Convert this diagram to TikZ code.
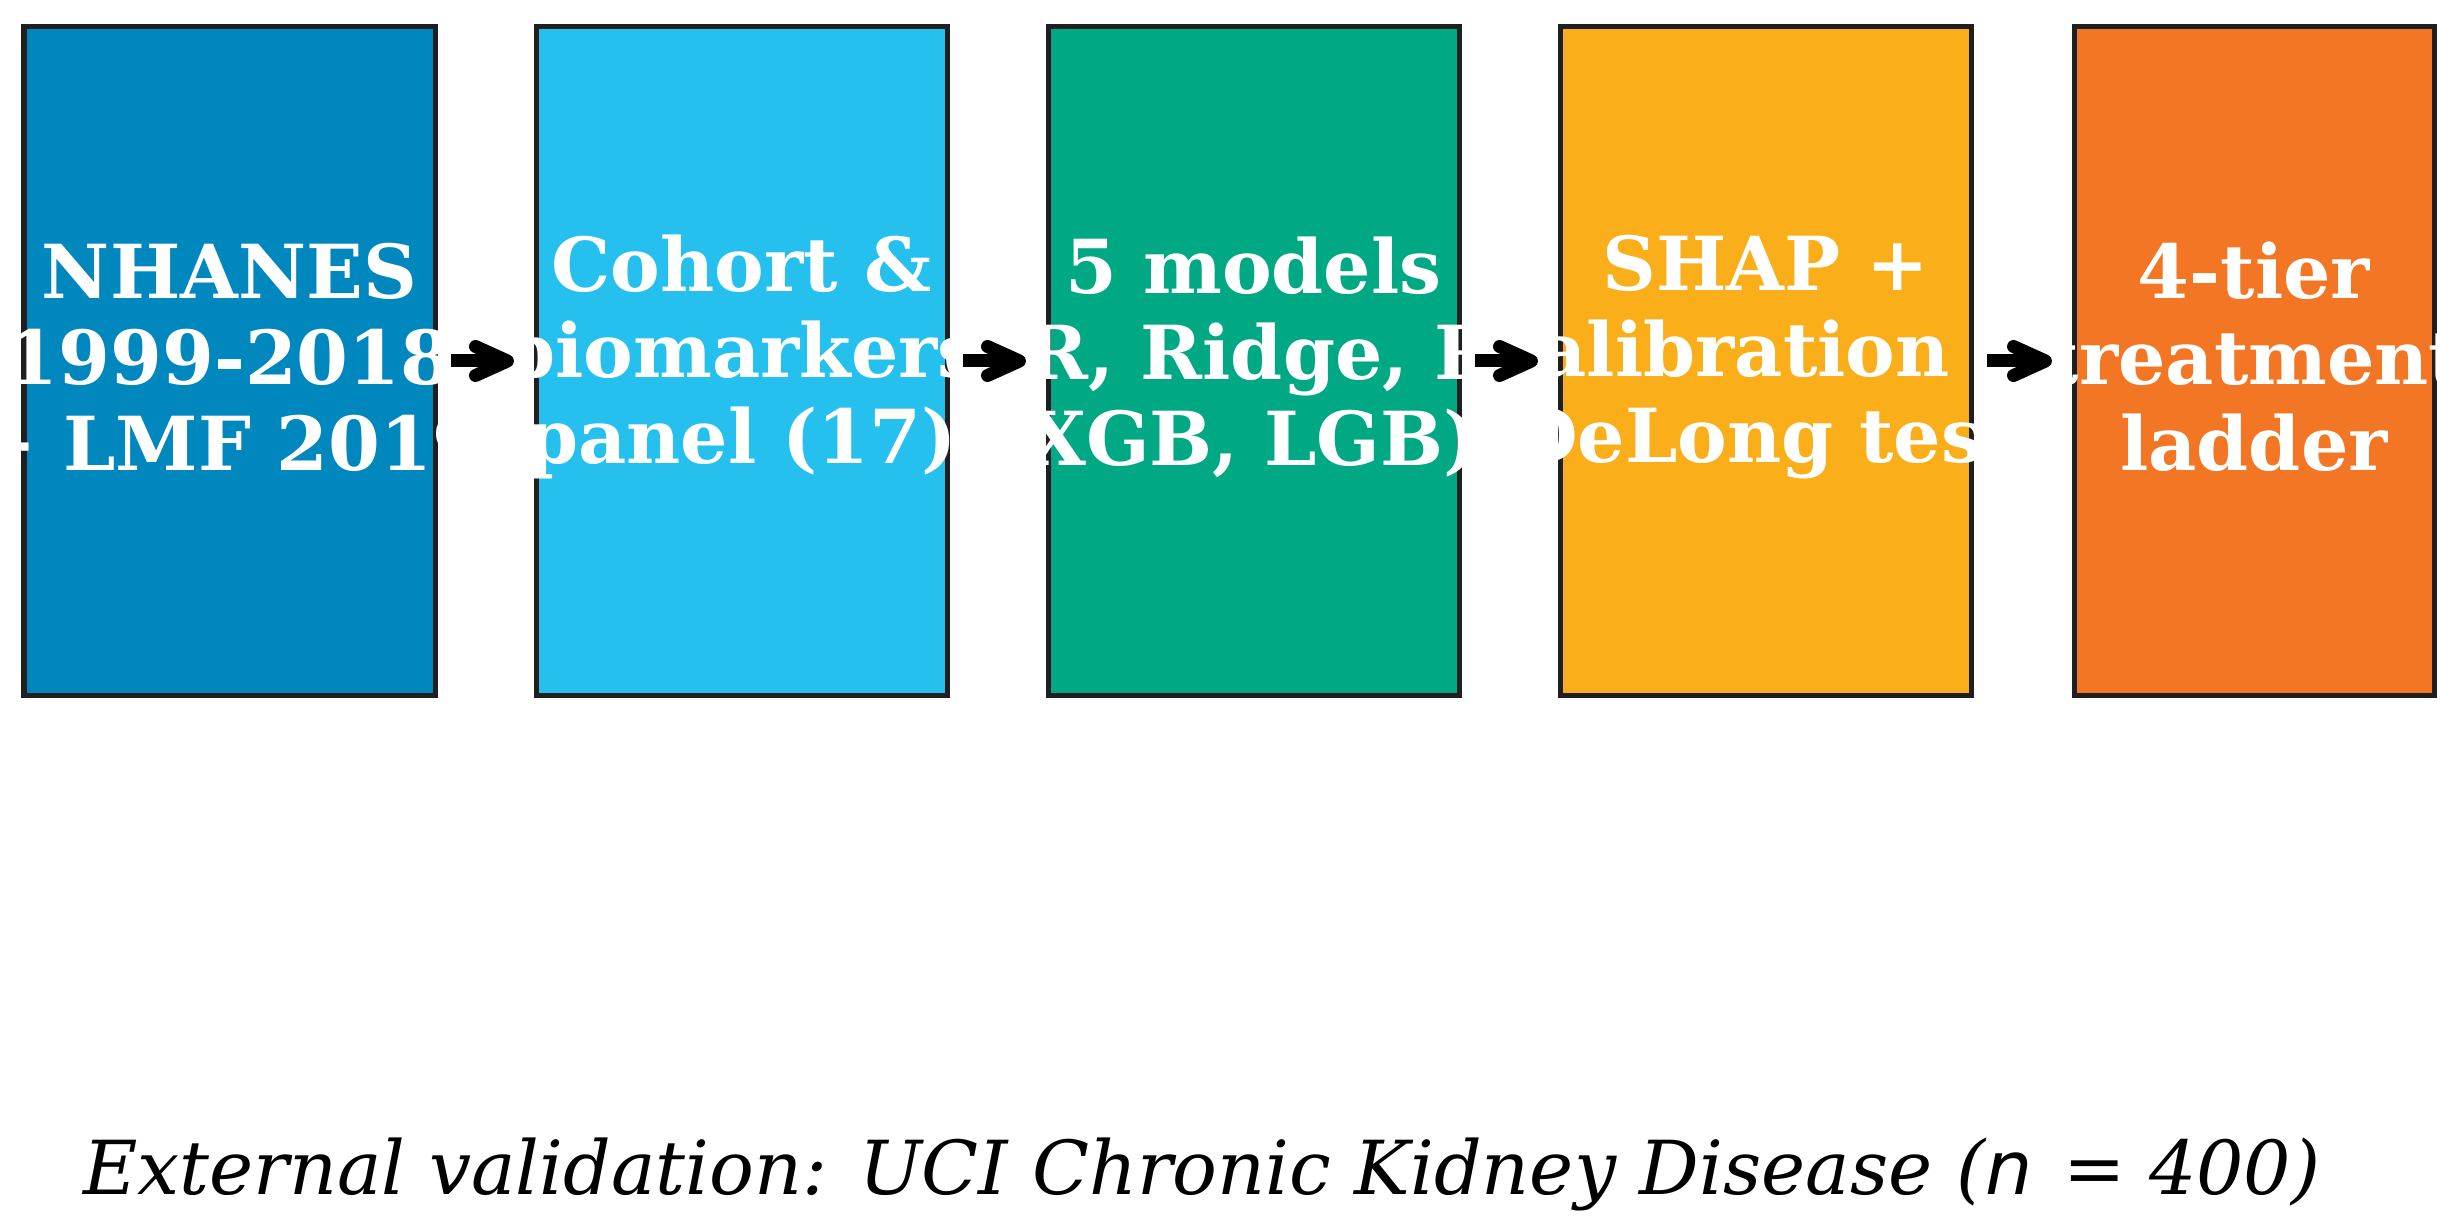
\documentclass[tikz,border=0pt]{standalone}
\usepackage{fontspec}
\setmainfont{DejaVu Serif}
\newfontfamily\dvsans{DejaVu Sans}
\usetikzlibrary{positioning,arrows.meta}
\definecolor{nhanesblue}{HTML}{0087BE}
\definecolor{cohortcyan}{HTML}{26C0EF}
\definecolor{modelgreen}{HTML}{00A884}
\definecolor{shapamber}{HTML}{F9AE1A}
\definecolor{ladderorange}{HTML}{F27623}

\begin{document}
\begin{tikzpicture}[
    stage/.style={draw=black!88, line width=0.05cm, outer sep=0pt, inner sep=0pt,
      minimum width=4.11cm, minimum height=6.68cm},
    stagetext/.style={text=white, inner sep=0pt, align=center, yshift=0.04cm,
      font=\fontsize{21.2}{24.5}\selectfont\bfseries},
    flow/.style={line width=0.13cm, -{Straight Barb[length=0.32cm,width=0.29cm,round]},
      shorten <=0.16cm, shorten >=0.22cm}
  ]
  \useasboundingbox (0,0) rectangle (24.54,12.29);
  \node[stage, fill=nhanesblue] (nhanes) at (2.295,8.68) {};
  \node[stagetext] (nhanestext) at (nhanes) {NHANES\\1999-2018\\+ LMF 2019};
  \node[stage, fill=cohortcyan, right=1.01cm of nhanes] (cohort) {};
  \node[stagetext] (cohorttext) at (cohort) {Cohort \&\\biomarkers\\panel (17)};
  \node[stage, fill=modelgreen, right=1.01cm of cohort] (models) {};
  \node[stagetext] (modelstext) at (models) {5 models\\(LR, Ridge, RF,\\XGB, LGB)};
  \node[stage, fill=shapamber, right=1.01cm of models] (shap) {};
  \node[stagetext] (shaptext) at (shap) {SHAP +\\calibration +\\DeLong test};
  \node[stage, fill=ladderorange, minimum width=3.6cm, right=1.03cm of shap] (ladder) {};
  \node[stagetext] (laddertext) at (ladder) {4-tier\\treatment\\ladder};
  \draw[flow] (nhanes) -- (cohort);
  \draw[flow] (cohort) -- (models);
  \draw[flow] (models) -- (shap);
  \draw[flow] (shap) -- (ladder);
  \node[anchor=base, font=\fontsize{21.2}{24.5}\selectfont\itshape] (validation) at (12.02,0.35)
    {External validation: UCI Chronic Kidney Disease ({\dvsans\itshape n}\kern0.07cm\ = 400)};
\end{tikzpicture}
\end{document}
